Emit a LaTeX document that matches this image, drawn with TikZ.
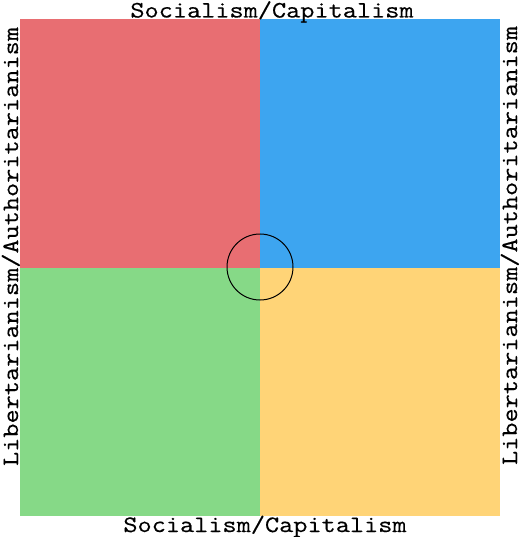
\documentclass[tikz,border=0pt]{standalone}
\usepackage{fontspec}
\newfontfamily\axisfont[FakeStretch=1.17,FakeBold=0.4]{Latin Modern Mono}
\definecolor{qred}{RGB}{232,110,114}
\definecolor{qblue}{RGB}{61,165,240}
\definecolor{qgreen}{RGB}{134,217,135}
\definecolor{qyellow}{RGB}{255,212,119}
\begin{document}
\begin{tikzpicture}[x=1pt,y=-1pt,
  axislabel/.style={font=\axisfont\fontsize{23.5}{24}\selectfont, inner sep=0pt, anchor=base, text=black}]
\useasboundingbox (0,0) rectangle (521,537);
\fill[white] (0,0) rectangle (521,537);
\fill[qred] (20,19.5) rectangle (260,268);
\fill[qblue] (260,19.5) rectangle (500,268);
\fill[qgreen] (20,268) rectangle (260,516);
\fill[qyellow] (260,268) rectangle (500,516);
\node[draw=black, line width=1pt, circle, minimum size=66pt, inner sep=0pt] (center) at (260,267) {};
\node[axislabel] (top) at (272,17.5) {Socialism/Capitalism};
\node[axislabel] (bottom) at (265,532) {Socialism/Capitalism};
\node[axislabel, rotate=90] (left) at (18,246.5) {Libertarianism/Authoritarianism};
\node[axislabel, rotate=90] (right) at (517,245.5) {Libertarianism/Authoritarianism};
\end{tikzpicture}
\end{document}
